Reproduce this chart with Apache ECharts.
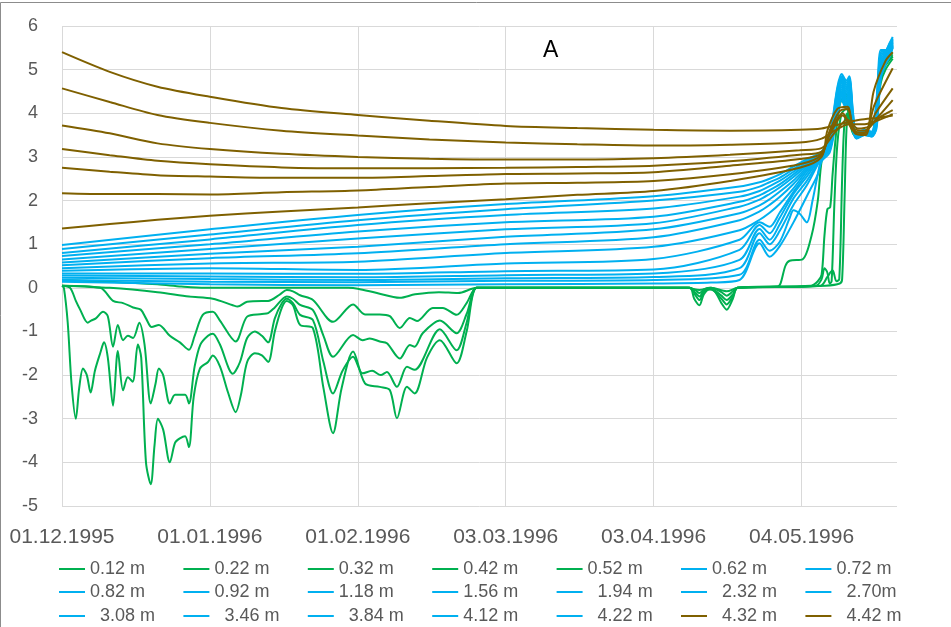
<!DOCTYPE html>
<html><head><meta charset="utf-8">
<script src="https://cdn.jsdelivr.net/npm/echarts@6/dist/echarts.min.js"></script>
<style>html,body{margin:0;padding:0;background:#fff}#c{width:951px;height:627px}</style>
</head><body><div id="c"></div>
<script>
// x values are days since 01.12.1995
const xTickLabels = ['01.12.1995','01.01.1996','01.02.1996','03.03.1996','03.04.1996','04.05.1996'];
const yTicks = [-5,-4,-3,-2,-1,0,1,2,3,4,5,6];

const legendNames = ['0.12 m','0.22 m','0.32 m','0.42 m','0.52 m','0.62 m','0.72 m',
  '0.82 m','0.92 m','1.18 m','1.56 m','  1.94 m','  2.32 m','  2.70m',
  '  3.08 m','  3.46 m','  3.84 m','4.12 m','  4.22 m','  4.32 m','  4.42 m'];

// ---- green series (0.12 .. 0.52 m) ----
const s012 = [[0,0.05],[0.4,0.0],[1.2,-0.8],[2.0,-2.2],[2.9,-3.0],[3.6,-2.3],[4.4,-1.85],[5.2,-2.0],[6.0,-2.4],[6.9,-1.9],[8.0,-1.5],[8.8,-1.25],[9.6,-1.6],[10.7,-2.7],[11.7,-1.45],[12.8,-2.35],[13.8,-2.05],[14.8,-2.15],[15.9,-1.3],[16.6,-1.6],[17.6,-4.0],[18.6,-4.5],[19.4,-3.6],[20.1,-3.0],[21.2,-3.25],[22.6,-4.0],[23.7,-3.55],[24.7,-3.45],[25.8,-3.4],[26.6,-3.65],[27.6,-2.5],[28.9,-1.85],[30.6,-1.7],[31.6,-1.55],[33.1,-1.8],[34.8,-2.4],[36.4,-2.85],[37.5,-2.45],[38.8,-1.7],[40.4,-1.5],[41.9,-1.55],[43.2,-1.7],[44.6,-1.0],[46.1,-0.45],[47.1,-0.3],[48.4,-0.4],[49.9,-0.85],[52.6,-0.93],[54.8,-2.3],[56.8,-3.33],[58.6,-2.3],[61.0,-1.46],[63.5,-2.19],[66.6,-2.27],[68.7,-2.34],[70.2,-2.99],[72.3,-2.27],[73.9,-2.42],[76.5,-1.6],[79.2,-1.2],[82.7,-1.73],[84.8,-1.0],[86.9,0.0],[90,0.0],[131.5,0.0],[132.5,-0.25],[133.6,-0.4],[134.5,-0.15],[135.7,-0.03],[136.8,-0.08],[138.2,-0.35],[139.3,-0.5],[140.6,-0.25],[141.6,0.0],[150,0.03],[150.6,0.1],[151.6,0.5],[152.5,0.62],[155.2,0.65],[157.1,1.2],[158.4,2.0],[159.2,2.9],[160.4,3.3],[162.5,4.3],[163.4,4.5],[164.6,4.4],[165.5,3.8],[166.5,3.5],[168.2,3.55],[169.7,3.5],[170.7,4.2],[171.6,5.1],[172.6,5.25],[174.1,5.4]];
const s022 = [[0,0.05],[1.7,0.0],[2.9,-0.3],[3.8,-0.5],[5.4,-0.8],[6.1,-0.75],[7.1,-0.7],[8.6,-0.55],[9.6,-0.65],[10.7,-1.35],[11.7,-0.85],[12.8,-1.2],[13.8,-1.1],[14.9,-1.15],[16.2,-0.8],[17.3,-1.3],[18.6,-2.65],[19.6,-2.2],[20.3,-1.85],[21.2,-2.0],[22.6,-2.65],[23.7,-2.45],[25.8,-2.45],[26.6,-2.65],[27.8,-1.8],[29.0,-1.3],[30.6,-1.1],[31.6,-1.05],[33.1,-1.3],[35.8,-1.97],[37.3,-1.7],[38.8,-1.15],[40.4,-1.0],[41.9,-1.1],[43.2,-1.25],[44.6,-0.7],[46.1,-0.35],[47.1,-0.25],[48.4,-0.35],[49.9,-0.62],[52.6,-0.74],[54.8,-1.7],[56.8,-2.42],[58.8,-1.9],[61.0,-1.58],[63.0,-1.96],[65.0,-1.9],[66.8,-2.0],[68.1,-1.93],[70.2,-2.27],[72.3,-1.81],[73.9,-1.88],[79.2,-0.95],[82.7,-1.43],[84.8,-0.8],[86.9,0.0],[90,0.0],[131.5,0.0],[132.8,-0.18],[133.6,-0.28],[134.6,-0.08],[136,-0.03],[138.2,-0.25],[139.3,-0.38],[140.6,-0.2],[141.6,0.0],[157,0.05],[158.4,0.15],[159.2,0.3],[159.8,1.2],[160.4,1.8],[161.0,1.85],[161.5,2.6],[162.2,3.5],[163.0,4.2],[164.0,4.4],[165.0,4.2],[165.8,3.7],[166.5,3.5],[168.2,3.55],[169.7,3.5],[170.7,4.1],[171.6,5.0],[172.6,5.2],[174.1,5.35]];
const s032 = [[0,0.05],[8.0,0.0],[10.7,-0.3],[12.8,-0.35],[14.9,-0.45],[16.5,-0.5],[17.6,-0.7],[18.8,-0.9],[20.3,-0.85],[22.6,-1.1],[24.7,-1.25],[26.6,-1.42],[27.8,-1.1],[29.5,-0.62],[31.6,-0.55],[33.1,-0.75],[36.4,-1.23],[38.8,-0.66],[41.9,-0.6],[43.2,-0.58],[44.6,-0.45],[47.1,-0.2],[48.4,-0.25],[49.9,-0.39],[52.6,-0.51],[54.8,-1.1],[56.8,-1.58],[61.0,-1.08],[63.0,-1.2],[64.5,-1.16],[66.6,-1.23],[68.1,-1.27],[70.8,-1.62],[72.9,-1.31],[73.9,-1.35],[75.6,-1.04],[79.2,-0.75],[82.7,-1.04],[84.8,-0.6],[86.9,0.0],[90,0.0],[131.5,0.0],[132.8,-0.12],[133.6,-0.2],[134.6,-0.05],[136,-0.02],[138.2,-0.18],[139.3,-0.28],[140.6,-0.15],[141.6,0.0],[158,0.05],[159.2,0.2],[159.8,0.45],[160.4,0.35],[160.9,0.1],[161.3,0.15],[161.9,2.0],[162.5,3.3],[163.4,4.0],[164.4,4.1],[165.3,3.8],[166.1,3.5],[168.2,3.55],[169.7,3.5],[170.7,4.0],[171.6,4.9],[172.6,5.15],[174.1,5.3]];
const s042 = [[0,0.05],[10,0.0],[20,-0.1],[26.6,-0.2],[31.6,-0.25],[35.8,-0.4],[36.8,-0.43],[38.8,-0.32],[41.9,-0.3],[43.2,-0.3],[45.7,-0.15],[47.1,-0.05],[48.4,-0.08],[49.9,-0.17],[52.6,-0.28],[56.8,-0.78],[61.0,-0.38],[63.5,-0.61],[66.6,-0.61],[68.7,-0.65],[70.8,-0.92],[72.9,-0.69],[74.4,-0.76],[77.7,-0.46],[79.8,-0.46],[82.7,-0.62],[84.8,-0.35],[86.9,0.0],[90,0.0],[131.5,0.0],[132.8,-0.06],[133.6,-0.12],[134.6,-0.03],[136,0.0],[138.2,-0.1],[139.3,-0.18],[140.6,-0.08],[141.6,0.0],[159,0.05],[160.4,0.25],[161.5,0.4],[162.3,0.15],[162.9,0.2],[163.5,2.5],[164.0,3.8],[164.6,4.0],[165.3,3.7],[166.1,3.5],[168.2,3.55],[169.7,3.5],[170.7,3.95],[171.6,4.8],[172.6,5.1],[174.1,5.3]];
const s052 = [[0,0.18],[10,0.14],[20,0.08],[25,0.03],[30,0.0],[60,0.0],[62,-0.02],[66,-0.12],[70.8,-0.23],[74,-0.15],[79,-0.1],[83,-0.12],[86.9,0.0],[131,0.0],[133.6,-0.05],[136,0.0],[139.3,-0.08],[141.6,0.0],[150,0.02],[160,0.05],[163.0,0.1],[163.5,0.2],[164.0,2.0],[164.4,3.6],[164.8,4.0],[165.5,3.7],[166.3,3.5],[168.2,3.55],[169.7,3.5],[170.7,3.9],[171.6,4.7],[172.6,5.0],[174.1,5.25]];

// ---- blue series (0.62 .. 4.22 m) ----
const blueDays = [0,31,62,93,124,142,146.2,148.3,150.4,153.3,156.1];
const spikeDays = [159.2,160.9,162.5,163.4,164.4,165.0,165.8,166.5,168.2,169.7,170.7,171.6,172.6,173.4,174.1];
const v422 = [0.98,1.34,1.67,1.92,2.10,2.32,2.42,2.50,2.60,2.78,2.95];
const v412 = [0.89,1.22,1.55,1.80,2.00,2.20,2.32,2.42,2.52,2.72,2.92];
const v384 = [0.80,1.11,1.44,1.67,1.82,2.09,2.22,2.33,2.45,2.66,2.88];
const v346 = [0.73,1.00,1.29,1.50,1.63,1.97,2.12,2.24,2.37,2.60,2.84];
const v308 = [0.65,0.89,1.13,1.34,1.48,1.86,2.02,2.15,2.30,2.54,2.80];
const v270 = [0.58,0.78,0.94,1.17,1.34,1.71,1.89,2.03,2.20,2.46,2.76];
const v232 = [0.52,0.68,0.79,1.00,1.16,1.55,1.75,1.90,2.08,2.38,2.72];
const v194 = [0.45,0.56,0.60,0.80,0.94,1.32,1.56,1.72,1.92,2.28,2.68];
const v156 = [0.39,0.45,0.41,0.56,0.66,1.10,1.50,1.40,1.72,2.20,2.62];
const v118 = [0.33,0.33,0.32,0.38,0.42,0.87,1.44,1.25,1.60,2.15,2.55];
const v092 = [0.28,0.26,0.24,0.29,0.33,0.64,1.35,1.10,1.45,2.05,2.45];
const v082 = [0.23,0.20,0.18,0.22,0.25,0.45,1.25,1.00,1.30,1.90,2.35];
const d072 = [0,31,62,93,124,142,146.2,148.3,150.4,152.5,153.3,154.6,156.1,157.3,158.4];
const v072 = [0.18,0.14,0.13,0.16,0.18,0.30,1.10,0.85,1.05,1.60,1.78,1.70,1.50,2.00,2.60];
const d062 = [0,31,62,93,124,136,142,146.2,148.3,150.4,153.3,156.1,158.4];
const v062 = [0.14,0.08,0.06,0.08,0.10,0.12,0.18,1.02,0.71,0.95,1.50,2.10,2.60];
const k422 = [3.12,3.50,4.60,4.90,4.75,4.85,4.00,3.55,3.62,3.58,4.30,5.45,5.45,5.60,5.75];
const k412 = [3.10,3.45,4.55,4.85,4.70,4.80,3.95,3.52,3.60,3.56,4.25,5.40,5.42,5.58,5.72];
const k384 = [3.10,3.40,4.50,4.82,4.65,4.75,3.90,3.50,3.58,3.55,4.20,5.35,5.40,5.55,5.70];
const k346 = [3.08,3.38,4.45,4.78,4.60,4.70,3.85,3.50,3.57,3.54,4.15,5.30,5.38,5.52,5.68];
const k308 = [3.07,3.35,4.40,4.75,4.55,4.65,3.80,3.48,3.56,3.52,4.10,5.25,5.35,5.50,5.66];
const k270 = [3.06,3.32,4.35,4.70,4.50,4.60,3.80,3.47,3.55,3.52,4.05,5.20,5.32,5.48,5.64];
const k232 = [3.05,3.30,4.30,4.65,4.45,4.55,3.75,3.46,3.55,3.50,4.00,5.15,5.30,5.45,5.62];
const k194 = [3.04,3.28,4.25,4.60,4.40,4.50,3.75,3.45,3.54,3.50,3.95,5.10,5.28,5.42,5.60];
const k156 = [3.03,3.25,4.20,4.55,4.35,4.45,3.70,3.45,3.53,3.50,3.90,5.05,5.25,5.40,5.58];
const k118 = [3.02,3.22,4.15,4.50,4.30,4.40,3.70,3.44,3.52,3.49,3.85,5.00,5.22,5.38,5.56];
const k092 = [3.00,3.20,4.10,4.45,4.25,4.35,3.65,3.44,3.52,3.48,3.80,4.95,5.20,5.35,5.55];
const k082 = [2.98,3.18,4.05,4.40,4.20,4.30,3.65,3.43,3.51,3.48,3.75,4.90,5.18,5.33,5.53];
const k072 = [2.95,3.15,4.00,4.35,4.15,4.25,3.60,3.43,3.50,3.47,3.70,4.85,5.15,5.30,5.52];
const k062 = [2.90,3.10,3.95,4.30,4.10,4.20,3.60,3.42,3.50,3.47,3.65,4.80,5.12,5.28,5.50];

// ---- brown series ----
const brownDays = [0,10,20,31,46,62,77,93,108,124,140,154.6,159.2];
const v432 = [1.36,1.46,1.56,1.65,1.75,1.84,1.94,2.03,2.13,2.22,2.45,2.75,3.00];
const e432 = [[160.4,3.6],[162.5,4.1],[164.6,4.15],[166.1,3.55],[168.4,3.5],[170.1,4.5],[172.6,5.2],[174.1,5.4]];
const v442 = [2.17,2.15,2.15,2.14,2.19,2.23,2.31,2.39,2.41,2.45,2.60,2.83,3.05];
const e442 = [[160.9,3.6],[163.0,4.05],[164.6,4.1],[166.1,3.6],[168.2,3.55],[170.3,4.2],[174.1,5.03]];
const vX5 = [2.75,2.66,2.58,2.55,2.52,2.52,2.56,2.61,2.62,2.65,2.80,2.95,3.08];
const eX5 = [[160.9,3.55],[163.6,4.0],[165.8,3.6],[168.2,3.55],[170.5,4.0],[174.1,4.57]];
const vX4 = [3.18,3.04,2.91,2.83,2.76,2.74,2.74,2.75,2.77,2.80,2.90,3.05,3.12];
const eX4 = [[160.9,3.5],[163.6,3.95],[165.8,3.65],[168.2,3.6],[170.9,3.9],[174.1,4.3]];
const vX3 = [3.72,3.54,3.31,3.18,3.07,3.00,2.96,2.94,2.94,2.97,3.05,3.15,3.20];
const eX3 = [[161.9,3.55],[164.6,3.85],[166.8,3.65],[169.2,3.7],[171.3,3.9],[174.1,4.07]];
const vX2 = [4.57,4.26,3.96,3.78,3.60,3.49,3.40,3.33,3.29,3.26,3.28,3.33,3.42];
const eX2 = [[161.9,3.6],[165.0,3.75],[168.2,3.75],[171.3,3.85],[174.1,3.98]];
const vX1 = [5.40,4.95,4.61,4.38,4.12,3.96,3.83,3.71,3.66,3.62,3.60,3.62,3.65];
const eX1 = [[163.0,3.75],[167.2,3.85],[171.3,3.9],[174.1,3.95]];

const GREEN = '#00B050', BLUE = '#00B0F0', BROWN = '#7F6000';
const zip = (d, v) => d.map((x, i) => [x, v[i]]);
const lineDefs = [
  {name: legendNames[0], color: GREEN, data: s012},
  {name: legendNames[1], color: GREEN, data: s022},
  {name: legendNames[2], color: GREEN, data: s032},
  {name: legendNames[3], color: GREEN, data: s042},
  {name: legendNames[4], color: GREEN, data: s052},
  {name: legendNames[5], color: BLUE, data: zip(d062, v062).concat(zip(spikeDays, k062))},
  {name: legendNames[6], color: BLUE, data: zip(d072, v072).concat(zip(spikeDays, k072))},
  {name: legendNames[7], color: BLUE, data: zip(blueDays, v082).concat(zip(spikeDays, k082))},
  {name: legendNames[8], color: BLUE, data: zip(blueDays, v092).concat(zip(spikeDays, k092))},
  {name: legendNames[9], color: BLUE, data: zip(blueDays, v118).concat(zip(spikeDays, k118))},
  {name: legendNames[10], color: BLUE, data: zip(blueDays, v156).concat(zip(spikeDays, k156))},
  {name: legendNames[11], color: BLUE, data: zip(blueDays, v194).concat(zip(spikeDays, k194))},
  {name: legendNames[12], color: BLUE, data: zip(blueDays, v232).concat(zip(spikeDays, k232))},
  {name: legendNames[13], color: BLUE, data: zip(blueDays, v270).concat(zip(spikeDays, k270))},
  {name: legendNames[14], color: BLUE, data: zip(blueDays, v308).concat(zip(spikeDays, k308))},
  {name: legendNames[15], color: BLUE, data: zip(blueDays, v346).concat(zip(spikeDays, k346))},
  {name: legendNames[16], color: BLUE, data: zip(blueDays, v384).concat(zip(spikeDays, k384))},
  {name: legendNames[17], color: BLUE, data: zip(blueDays, v412).concat(zip(spikeDays, k412))},
  {name: legendNames[18], color: BLUE, data: zip(blueDays, v422).concat(zip(spikeDays, k422))},
  {name: legendNames[19], color: BROWN, data: zip(brownDays, v432).concat(e432)},
  {name: legendNames[20], color: BROWN, data: zip(brownDays, v442).concat(e442)},
  {name: 'extra-5', color: BROWN, data: zip(brownDays, vX5).concat(eX5)},
  {name: 'extra-4', color: BROWN, data: zip(brownDays, vX4).concat(eX4)},
  {name: 'extra-3', color: BROWN, data: zip(brownDays, vX3).concat(eX3)},
  {name: 'extra-2', color: BROWN, data: zip(brownDays, vX2).concat(eX2)},
  {name: 'extra-1', color: BROWN, data: zip(brownDays, vX1).concat(eX1)}
];

const FONT = 'Liberation Sans';
const legendColX = [59, 183.4, 307.8, 432.2, 556.6, 681, 805.4];
const legendRowY = [569, 592, 616];
const legends = legendNames.map((n, i) => ({
  left: legendColX[i % 7], top: legendRowY[Math.floor(i / 7)] - 9,
  padding: 0, itemGap: 0, icon: 'rect', itemWidth: 26, itemHeight: 2,
  selectedMode: false, data: [n],
  textStyle: {fontSize: 18, color: '#595959', fontFamily: FONT}
}));

const chart = echarts.init(document.getElementById('c'), null, {renderer: 'canvas'});
chart.setOption({
  animation: false,
  backgroundColor: '#fff',
  title: {text: 'A', left: 543, top: 39, padding: 0,
    textStyle: {fontSize: 23, fontWeight: 'normal', color: '#000', fontFamily: FONT}},
  legend: legends,
  grid: {left: 62, right: 54, top: 26, bottom: 121, containLabel: false},
  xAxis: {
    type: 'value', min: 0, max: 175, interval: 31,
    axisLine: {show: false}, axisTick: {show: false},
    axisLabel: {fontSize: 21, color: '#595959', fontFamily: FONT, margin: 21, showMaxLabel: false,
      formatter: v => { const k = Math.round(v / 31); return (Math.abs(v - k * 31) < 0.01 && xTickLabels[k]) ? xTickLabels[k] : ''; }},
    splitLine: {show: true, showMaxLine: false, lineStyle: {color: '#D9D9D9', width: 1}}
  },
  yAxis: {
    type: 'value', min: yTicks[0], max: yTicks[yTicks.length - 1], interval: 1,
    axisLine: {show: false}, axisTick: {show: false},
    axisLabel: {fontSize: 18, color: '#595959', fontFamily: FONT, margin: 24},
    splitLine: {show: true, lineStyle: {color: '#D9D9D9', width: 1}}
  },
  graphic: [{type: 'rect', silent: true, shape: {x: 0.5, y: 2.5, width: 1000, height: 1000},
    style: {fill: 'none', stroke: '#8c8c8c', lineWidth: 1}}],
  series: lineDefs.map(d => ({
    type: 'line', name: d.name, data: d.data, smooth: 0.3,
    symbol: 'none', showSymbol: false, color: d.color,
    lineStyle: {color: d.color, width: 2}, emphasis: {disabled: true}
  }))
});
</script></body></html>
